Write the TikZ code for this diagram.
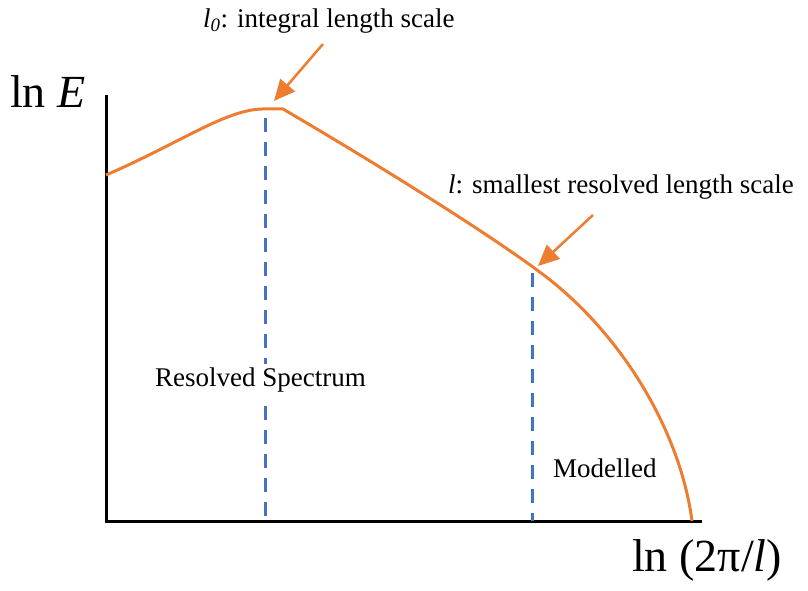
\documentclass[tikz,border=0pt]{standalone}
\usepackage{fontspec}
\setmainfont{Liberation Serif}
\usetikzlibrary{arrows.meta}
\definecolor{curveorange}{HTML}{ED7D31}
\definecolor{dashblue}{HTML}{4472C4}
\begin{document}
\begin{tikzpicture}[x=1pt,y=-1pt,
  axisline/.style={line width=3pt,line cap=rect},
  spectrum/.style={curveorange,line width=3pt,line join=round},
  pointer/.style={curveorange,line width=2.5pt,-{Triangle[length=21pt,width=19pt]}},
  cutoff/.style={dashblue,line width=3pt,dash pattern=on 14pt off 10pt},
  smalllabel/.style={font=\fontsize{27}{31}\selectfont,inner sep=0pt},
  biglabel/.style={font=\fontsize{46}{52}\selectfont,inner sep=0pt}]
\useasboundingbox (0,0) rectangle (808,591);
% axes
\coordinate (O) at (106,521);
\coordinate (Ytop) at (106,97);
\coordinate (Xend) at (700,521);
\draw[axisline] (Ytop) -- (O) -- (Xend);
% dashed cut-off lines
\coordinate (D1t) at (265,118);
\coordinate (D1b) at (265,521);
\coordinate (D2t) at (532,273);
\coordinate (D2b) at (532,521);
\draw[cutoff] (D1t) -- (D1b);
\draw[cutoff] (D2t) -- (D2b);
% spectrum curve
\coordinate (C0) at (106,175);
\coordinate (Cpk) at (262,109);
\coordinate (Ck) at (283,109);
\coordinate (Cl) at (537,270);
\coordinate (Cend) at (692,521);
\draw[spectrum] (C0) .. controls (180,143) and (225,110) .. (Cpk) -- (Ck)
  .. controls (370,160) and (480,228) .. (Cl)
  .. controls (620,330) and (680,430) .. (Cend);
% arrows
\coordinate (A1s) at (323,44);
\coordinate (A1e) at (274,101);
\coordinate (A2s) at (593,215);
\coordinate (A2e) at (538,266);
\draw[pointer] (A1s) -- (A1e);
\draw[pointer] (A2s) -- (A2e);
% labels
\node[smalllabel,anchor=west] (l0) at (203,21) {\textit{l\textsubscript{0}}: integral length scale};
\node[smalllabel,anchor=west] (lsmall) at (448,187) {\textit{l}: smallest resolved length scale};
\node[smalllabel,anchor=west,fill=white,inner ysep=4pt] (res) at (155,380) {Resolved Spectrum};
\node[smalllabel,anchor=west] (mod) at (553,468) {Modelled};
\node[biglabel,anchor=west] (lnE) at (10,92) {ln \textit{E}};
\node[biglabel,anchor=west] (lnk) at (632,560) {ln (2π/\textit{l})};
\end{tikzpicture}
\end{document}
